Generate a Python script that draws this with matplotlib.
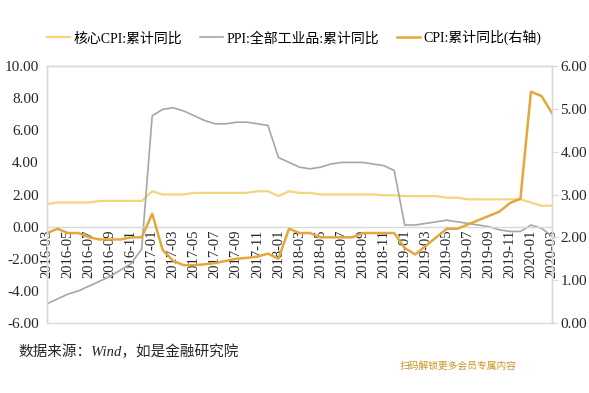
import matplotlib
matplotlib.use("Agg")
import matplotlib.pyplot as plt

plt.rcParams["font.family"] = ["Liberation Serif", "Noto Sans CJK SC"]
plt.rcParams["axes.unicode_minus"] = False

# 2016-03 .. 2020-03 月度
months = [f"{y}-{m:02d}" for y in range(2016, 2021) for m in range(1, 13)]
months = months[months.index("2016-03"):months.index("2020-03") + 1]

core_cpi = [1.4, 1.5, 1.5, 1.5, 1.5, 1.6, 1.6, 1.6, 1.6, 1.6,
            2.2, 2.0, 2.0, 2.0, 2.1, 2.1, 2.1, 2.1, 2.1, 2.1, 2.2, 2.2,
            1.9, 2.2, 2.1, 2.1, 2.0, 2.0, 2.0, 2.0, 2.0, 2.0, 1.95, 1.95,
            1.9, 1.9, 1.9, 1.9, 1.8, 1.8, 1.7, 1.7, 1.7, 1.7, 1.7, 1.7,
            1.5, 1.3, 1.3]
ppi = [-4.8, -4.5, -4.2, -4.0, -3.7, -3.4, -3.1, -2.7, -2.3, -1.4,
       6.9, 7.3, 7.4, 7.2, 6.9, 6.6, 6.4, 6.4, 6.5, 6.5, 6.4, 6.3,
       4.3, 4.0, 3.7, 3.6, 3.7, 3.9, 4.0, 4.0, 4.0, 3.9, 3.8, 3.5,
       0.1, 0.1, 0.2, 0.3, 0.4, 0.3, 0.2, 0.1, 0.0, -0.2, -0.3, -0.3,
       0.1, -0.1, -0.6]
cpi = [2.1, 2.2, 2.1, 2.1, 2.0, 1.95, 1.95, 1.95, 2.0, 2.0,
       2.55, 1.7, 1.45, 1.35, 1.35, 1.37, 1.4, 1.45, 1.5, 1.52, 1.55, 1.62,
       1.5, 2.2, 2.1, 2.1, 2.0, 2.0, 2.0, 2.0, 2.1, 2.1, 2.1, 2.1,
       1.75, 1.6, 1.8, 2.0, 2.2, 2.2, 2.3, 2.4, 2.5, 2.6, 2.8, 2.9,
       5.4, 5.3, 4.9]

names = ["核心CPI:累计同比", "PPI:全部工业品:累计同比", "CPI:累计同比(右轴)"]
c_core, c_ppi, c_cpi = "#F5D47A", "#A6A6A6", "#E5A73C"
grid_c = "#D9D9D9"

fig = plt.figure(figsize=(5.89, 3.93), dpi=100)
ax = fig.add_axes([47 / 589, 1 - 323 / 393, 505 / 589, 257 / 393])
ax2 = ax.twinx()

# 横轴放在 0 处（先设位置，否则会重置刻度标签）
ax.spines["bottom"].set_position(("data", 0))

x = range(len(months))
l1, = ax.plot(x, core_cpi, color=c_core, lw=1.6)
l2, = ax.plot(x, ppi, color=c_ppi, lw=1.2)
l3, = ax2.plot(x, cpi, color=c_cpi, lw=1.8)

ax.set_xlim(0, len(months) - 1)
ax.set_ylim(-6, 10)
ax.set_yticks(range(-6, 11, 2))
ax.set_yticklabels([f"{v:.2f}" for v in range(-6, 11, 2)])
ax2.set_ylim(0, 6)
ax2.set_yticks(range(0, 7))
ax2.set_yticklabels([f"{v:.2f}" for v in range(0, 7)])

ax.set_xticks(list(x)[::2])
ax.set_xticklabels(months[::2], fontsize=10.5)
ax.axhline(-6, color=grid_c, lw=1, clip_on=False)

for a in (ax, ax2):
    for s in a.spines.values():
        s.set_color(grid_c)
        s.set_linewidth(1)
ax2.spines["bottom"].set_visible(False)
ax.tick_params(axis="x", length=0, pad=2, colors="#262626", labelrotation=90)
ax.tick_params(axis="y", length=0, pad=6, labelsize=11, colors="#262626")
ax2.tick_params(axis="y", length=4, pad=2, labelsize=11, colors="#262626")
ax2.tick_params(axis="y", color=grid_c)

fig.legend([l1, l2, l3], names, loc="upper center", bbox_to_anchor=(0.5, 0.955),
           ncol=3, frameon=False, fontsize=10, handlelength=1.6,
           handletextpad=0.3, columnspacing=1.3)

fig.text(18 / 589, 1 - 352 / 393, "数据来源：Wind，如是金融研究院",
         fontsize=10.5, style="italic", color="#262626", va="center")
fig.text(517 / 589, 1 - 366 / 393, "扫码解锁更多会员专属内容",
         fontsize=7, color="#C8961E", ha="right", va="center")

fig.savefig("out.png", dpi=100)
